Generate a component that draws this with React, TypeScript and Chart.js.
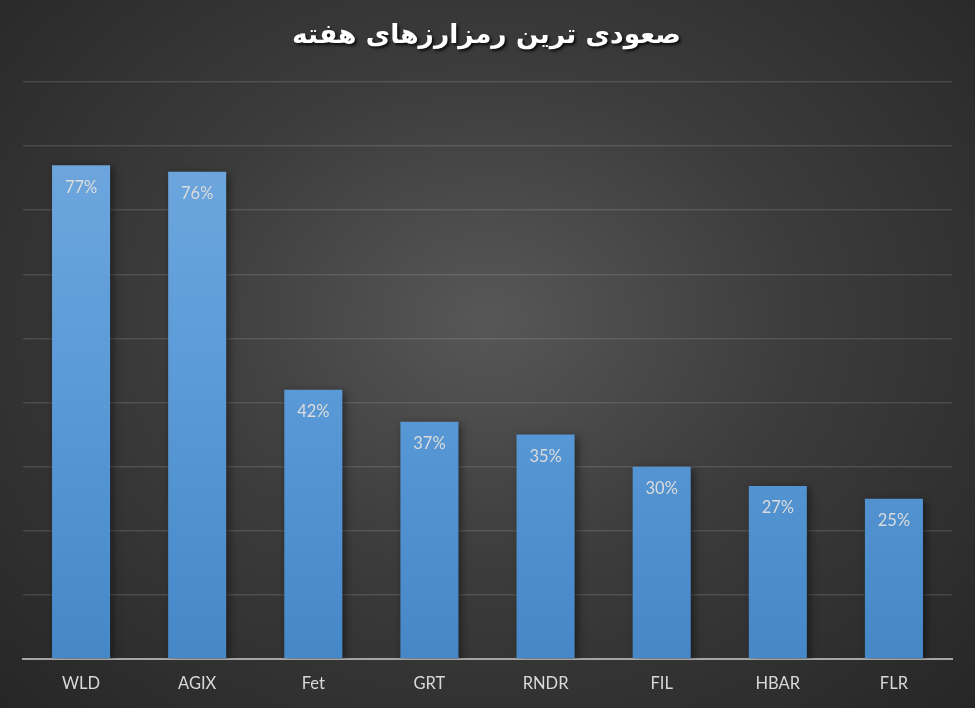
import React, { useEffect, useRef } from "react";
import { Chart, registerables } from "chart.js";

Chart.register(...registerables);

const TITLE = "صعودی ترین رمزارزهای هفته";
const categories = ["WLD", "AGIX", "Fet", "GRT", "RNDR", "FIL", "HBAR", "FLR"];
const gains = [77, 76, 42, 37, 35, 30, 27, 25];
const yMax = 90;
const yStep = 10;

export default function App() {
  const ref = useRef<HTMLCanvasElement>(null);
  useEffect(() => {
    document.body.style.margin = "0";
    const canvas = ref.current!;
    const labelPlugin = {
      id: "extras",
      beforeDatasetsDraw(chart: any) {
        const ctx = chart.ctx;
        ctx.save();
        ctx.shadowColor = "rgba(0,0,0,0.45)";
        ctx.shadowBlur = 8;
        ctx.shadowOffsetX = 3;
        ctx.shadowOffsetY = 2;
      },
      afterDatasetsDraw(chart: any) {
        const ctx = chart.ctx;
        ctx.restore();
        ctx.save();
        ctx.font = "16.5px Lato, 'Open Sans', sans-serif";
        ctx.fillStyle = "#dcdcdc";
        ctx.textAlign = "center";
        ctx.textBaseline = "middle";
        const meta = chart.getDatasetMeta(0);
        meta.data.forEach((bar: any, i: number) => {
          ctx.fillText(gains[i] + "%", bar.x, bar.y + 22);
        });
        ctx.restore();
      },
      afterDraw(chart: any) {
        const ctx = chart.ctx;
        ctx.save();
        ctx.font = "bold 26.6px 'DejaVu Sans', sans-serif";
        ctx.fillStyle = "#ffffff";
        ctx.textAlign = "center";
        ctx.textBaseline = "middle";
        ctx.direction = "rtl";
        ctx.shadowColor = "rgba(0,0,0,0.8)";
        ctx.shadowBlur = 3;
        ctx.shadowOffsetX = 2;
        ctx.shadowOffsetY = 2;
        ctx.fillText(TITLE, chart.width / 2 - 1, 36);
        ctx.restore();
      },
    };
    const chart = new Chart(canvas, {
      type: "bar",
      data: {
        labels: categories,
        datasets: [
          {
            data: gains,
            backgroundColor: (c: any) => {
              const area = c.chart.chartArea;
              if (!area) return "#5b9bd5";
              const g = c.chart.ctx.createLinearGradient(0, area.top, 0, area.bottom);
              g.addColorStop(0, "#74aadf");
              g.addColorStop(0.5, "#5b9bd8");
              g.addColorStop(1, "#4687c8");
              return g;
            },
            borderWidth: 0,
            barPercentage: 0.5,
            categoryPercentage: 1,
          },
        ],
      },
      options: {
        animation: false,
        responsive: false,
        layout: { padding: { left: 23, right: 23, top: 82, bottom: 15 } },
        plugins: { legend: { display: false }, title: { display: false }, tooltip: { enabled: false } },
        scales: {
          x: {
            grid: { display: false },
            border: { display: true, color: "#a6a6a6", width: 2 },
            ticks: { color: "#d9d9d9", font: { size: 16.5, family: "Lato, 'Open Sans', sans-serif" }, padding: 7 },
            afterFit: (s: any) => {
              s.height = 34;
            },
          },
          y: {
            min: 0,
            max: yMax,
            ticks: { display: false, stepSize: yStep },
            grid: { color: "rgba(255,255,255,0.12)", lineWidth: 1.5, drawTicks: false },
            border: { display: false },
          },
        },
      },
      plugins: [labelPlugin],
    });
    return () => chart.destroy();
  }, []);
  return (
    <div
      style={{
        position: "fixed",
        left: 0,
        top: 0,
        width: 975,
        height: 708,
        background: "radial-gradient(ellipse at 50% 45%, #575757 0%, #3c3c3c 45%, #262626 100%)",
      }}
    >
      <canvas ref={ref} width={975} height={708} style={{ display: "block" }} />
    </div>
  );
}
